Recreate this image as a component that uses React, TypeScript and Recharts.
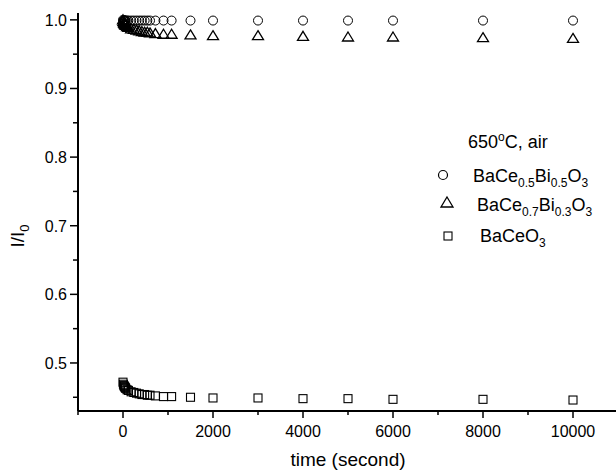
import React from 'react';
import { ScatterChart, Scatter, XAxis, YAxis } from 'recharts';

// time in seconds
const times = [0, 10, 20, 30, 40, 50, 60, 90, 120, 180, 240, 300, 360, 420, 480, 540, 600, 720, 900, 1080, 1500, 2000, 3000, 4000, 5000, 6000, 8000, 10000];

// I/I0 for each composition
const bi05 = [1.0, 0.999, 0.999, 0.999, 0.999, 0.999, 0.999, 0.999, 0.999, 0.999, 0.999, 0.999, 0.999, 0.999, 0.999, 0.999, 0.999, 0.999, 0.999, 0.999, 0.999, 0.999, 0.999, 0.999, 0.999, 0.999, 0.999, 0.999];
const bi03 = [1.0, 0.998, 0.996, 0.995, 0.994, 0.993, 0.992, 0.99, 0.989, 0.987, 0.986, 0.985, 0.984, 0.983, 0.982, 0.982, 0.981, 0.98, 0.979, 0.979, 0.978, 0.977, 0.977, 0.976, 0.975, 0.975, 0.974, 0.973];
const baceo3 = [0.472, 0.469, 0.467, 0.466, 0.465, 0.464, 0.463, 0.461, 0.46, 0.458, 0.457, 0.456, 0.455, 0.454, 0.454, 0.453, 0.453, 0.452, 0.451, 0.451, 0.45, 0.449, 0.449, 0.448, 0.448, 0.447, 0.447, 0.446];

const xTicks = [-1000, 0, 1000, 2000, 3000, 4000, 5000, 6000, 7000, 8000, 9000, 10000, 11000];
const yTicks = [0.45, 0.5, 0.55, 0.6, 0.65, 0.7, 0.75, 0.8, 0.85, 0.9, 0.95, 1.0];

const FONT = '"Liberation Sans", Arial, sans-serif';

const toPoints = (vals: number[]) => times.map((t, i) => ({ t, v: vals[i] }));

const Circle = (p: any) => (
  <circle cx={p.cx} cy={p.cy} r={4.5} fill="none" stroke="#000" strokeWidth={1} />
);
const Triangle = (p: any) => (
  <path
    d={`M${p.cx},${p.cy - 5} L${p.cx + 5.5},${p.cy + 4} L${p.cx - 5.5},${p.cy + 4} Z`}
    fill="none"
    stroke="#000"
    strokeWidth={1.3}
  />
);
const Square = (p: any) => (
  <rect x={p.cx - 4} y={p.cy - 4} width={8} height={8} fill="none" stroke="#000" strokeWidth={1.1} />
);

const XTick = ({ x, y, payload }: any) => {
  const v = payload.value;
  const major = v % 2000 === 0 && v >= 0 && v <= 10000;
  return (
    <g>
      <line x1={x} x2={x} y1={y} y2={y + (major ? 7 : 4)} stroke="#000" strokeWidth={1.5} />
      {major && (
        <text x={x} y={y + 26} textAnchor="middle" fontSize={16} fontFamily={FONT} fill="#000">
          {v}
        </text>
      )}
    </g>
  );
};

const YTick = ({ x, y, payload }: any) => {
  const v = payload.value;
  const major = Math.round(v * 100) % 10 === 0;
  return (
    <g>
      <line x1={x - (major ? 8 : 5)} x2={x} y1={y} y2={y} stroke="#000" strokeWidth={1.5} />
      {major && (
        <text x={x - 11} y={y + 6} textAnchor="end" fontSize={16} fontFamily={FONT} fill="#000">
          {v.toFixed(1)}
        </text>
      )}
    </g>
  );
};

const Sub = ({ children }: { children: React.ReactNode }) => (
  <tspan dy={5} fontSize={12}>{children}</tspan>
);

export default function App() {
  return (
    <div style={{ position: 'absolute', left: 0, top: 0, width: 616, height: 472, overflow: 'hidden', background: '#fff' }}>
      <ScatterChart width={618} height={472} margin={{ top: 13, right: 0, left: 0, bottom: 0 }}>
        <XAxis
          type="number"
          dataKey="t"
          domain={[-1000, 11000]}
          ticks={xTicks}
          interval={0}
          tickSize={0}
          tickMargin={0}
          tickLine={false}
          tick={<XTick />}
          axisLine={{ stroke: '#000', strokeWidth: 2 }}
          height={61}
          allowDataOverflow
        />
        <YAxis
          type="number"
          dataKey="v"
          domain={[0.43, 1.01]}
          ticks={yTicks}
          interval={0}
          tickSize={0}
          tickMargin={0}
          tickLine={false}
          tick={<YTick />}
          axisLine={{ stroke: '#000', strokeWidth: 2 }}
          width={78}
          allowDataOverflow
        />
        <Scatter data={toPoints(bi05)} shape={Circle} isAnimationActive={false} />
        <Scatter data={toPoints(bi03)} shape={Triangle} isAnimationActive={false} />
        <Scatter data={toPoints(baceo3)} shape={Square} isAnimationActive={false} />

        <text x={348} y={466} textAnchor="middle" fontSize={19} fontFamily={FONT} fill="#000">
          time (second)
        </text>
        <text transform="translate(24,236) rotate(-90)" textAnchor="middle" fontSize={19} fontFamily={FONT} fill="#000">
          I/I<tspan dy={5} fontSize={13}>0</tspan>
        </text>

        <g fontFamily={FONT} fill="#000">
          <text x={468} y={148} fontSize={18}>
            650<tspan dy={-7} fontSize={12}>o</tspan>
            <tspan dy={7}>C, air</tspan>
          </text>
          <circle cx={443} cy={175} r={4.5} fill="none" stroke="#000" strokeWidth={1.2} />
          <text x={473} y={182} fontSize={18}>
            BaCe<Sub>0.5</Sub><tspan dy={-5}>Bi</tspan><Sub>0.5</Sub><tspan dy={-5}>O</tspan><Sub>3</Sub>
          </text>
          <path d="M447,197 L453,207 L441,207 Z" fill="none" stroke="#000" strokeWidth={1.3} />
          <text x={477} y={211} fontSize={18}>
            BaCe<Sub>0.7</Sub><tspan dy={-5}>Bi</tspan><Sub>0.3</Sub><tspan dy={-5}>O</tspan><Sub>3</Sub>
          </text>
          <rect x={444} y={232} width={8} height={8} fill="none" stroke="#000" strokeWidth={1.1} />
          <text x={480} y={242} fontSize={18}>
            BaCeO<Sub>3</Sub>
          </text>
        </g>
      </ScatterChart>
    </div>
  );
}
